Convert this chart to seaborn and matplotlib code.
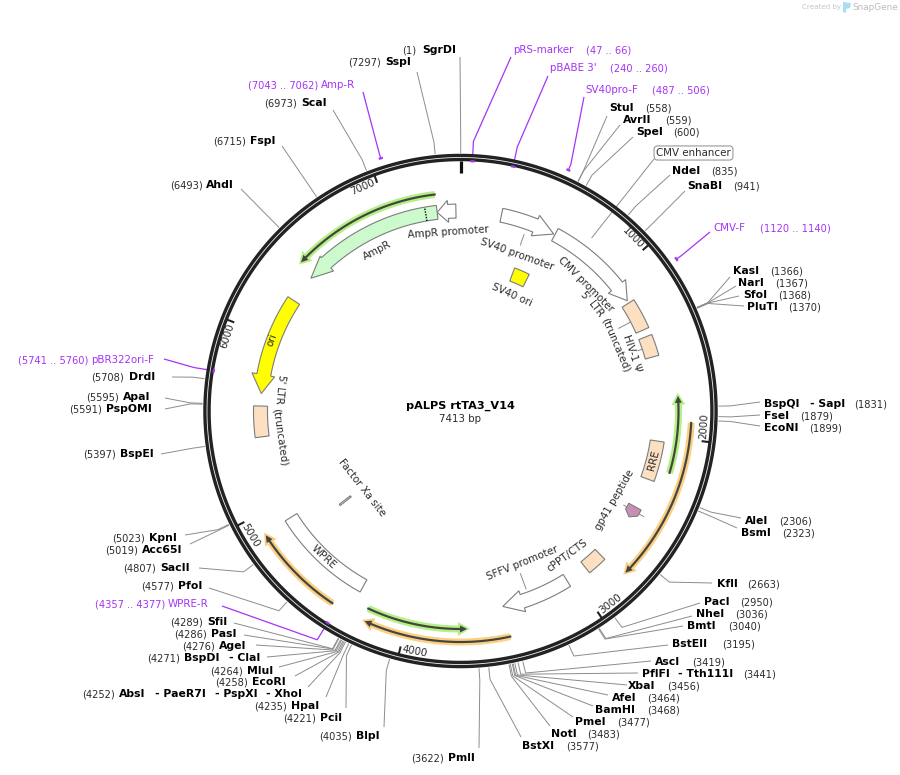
import numpy as np
import matplotlib
matplotlib.use("Agg")
import matplotlib.pyplot as plt
from matplotlib.patches import Polygon
import seaborn as sns

# ---------- data ----------
plasmid_name = "pALPS rtTA3_V14"
plasmid_size = 7413
tick_values = [1000, 2000, 3000, 4000, 5000, 6000, 7000]

enzyme_names = ["SgrDI", "SspI", "ScaI", "FspI", "AhdI", "StuI", "AvrII", "SpeI", "NdeI", "SnaBI",
                "KasI", "NarI", "SfoI", "PluTI", "BspQI", "FseI", "EcoNI", "AleI", "BsmI", "KflI",
                "PacI", "NheI", "BmtI", "BstEII", "AscI", "PflFI", "XbaI", "AfeI", "BamHI", "PmeI",
                "NotI", "BstXI", "PmlI", "BlpI", "PciI", "HpaI", "AbsI", "EcoRI", "MluI", "BspDI",
                "AgeI", "PasI", "SfiI", "PfoI", "SacII", "Acc65I", "KpnI", "BspEI", "PspOMI", "ApaI", "DrdI"]
enzyme_sites = [1, 7297, 6973, 6715, 6493, 558, 559, 600, 835, 941,
                1366, 1367, 1368, 1370, 1831, 1879, 1899, 2306, 2323, 2663,
                2950, 3036, 3040, 3195, 3419, 3441, 3456, 3464, 3468, 3477,
                3483, 3577, 3622, 4035, 4221, 4235, 4252, 4258, 4264, 4271,
                4276, 4286, 4289, 4577, 4807, 5019, 5023, 5397, 5591, 5595, 5708]
extra_names = ["- SapI", "- Tth111I", "- ClaI", "- PaeR7I", "- PspXI", "- XhoI"]

primer_names = ["pRS-marker", "pBABE 3'", "SV40pro-F", "CMV-F", "WPRE-R", "pBR322ori-F", "Amp-R"]
primer_starts = [47, 240, 487, 1120, 4357, 5741, 7043]
primer_ends = [66, 260, 506, 1140, 4377, 5760, 7062]

feature_names = ["AmpR promoter", "AmpR", "ori", "5' LTR (truncated)", "SV40 ori", "SV40 promoter",
                 "CMV promoter", "5' LTR (truncated)", "HIV-1 \u03a8", "RRE", "gp41 peptide",
                 "cPPT/CTS", "SFFV promoter", "WPRE"]
feature_starts = [7386, 7275, 6250, 5589, 427, 243, 580, 1180, 1404, 2265, 2445, 2796, 3045, 4304]
feature_ends = [7275, 6416, 5663, 5407, 550, 572, 1164, 1361, 1530, 2032, 2515, 2912, 3455, 4899]

orf_starts = [7273, 1914, 2193, 3450, 4222, 4400]
orf_ends = [6429, 2784, 1755, 4227, 3655, 4905]
orf_kinds = ["green", "orange", "green", "orange", "green", "orange"]

# ---------- layout ----------
CX, CY = 460.5, 411.0
enzyme_name_x = [422, 385, 301, 250, 206, 609, 623, 636, 672, 687,
                 733, 738, 743, 747, 764, 764, 764, 745, 741, 717,
                 704, 696, 687, 672, 655, 642, 628, 612, 595, 575,
                 551, 522, 448, 356, 320, 291, 119, 252, 247, 184,
                 219, 211, 207, 178, 160, 142, 149, 120, 106, 123, 129]
enzyme_site_x = [402, 348, 264, 213, 170, 645, 665, 673, 711, 733,
                 770, 775, 778, 788, 854, 800, 809, 779, 782, 747,
                 740, 735, 728, 722, 692, 743, 667, 647, 647, 617,
                 587, 566, 411, 319, 283, 254, 82, 215, 210, 147,
                 182, 174, 170, 141, 123, 105, 112, 83, 69, 86, 91]
enzyme_y = [50, 62, 103, 141, 185, 108, 120, 132, 171, 186,
            271, 283, 295, 307, 404, 416, 428, 521, 533, 584,
            602, 614, 626, 644, 662, 674, 686, 698, 710, 722,
            734, 746, 758, 736, 718, 706, 694, 682, 671, 658,
            646, 634, 622, 586, 568, 550, 538, 454, 409, 397, 377]
anchor_x = [460, 417, 333, 282, 241, 607, 620, 633, 670, 685,
            730, 736, 739, 744, 760, 760, 760, 741, 737, 712,
            700, 692, 683, 668, 651, 638, 627, 608, 593, 573,
            550, 521, 479, 384, 346, 326, 308, 295, 279, 267,
            256, 244, 234, 209, 199, 190, 185, 161, 165, 165, 172]
anchor_y = [57, 72, 110, 146, 189, 116, 125, 137, 175, 191,
            277, 286, 296, 306, 402, 415, 426, 518, 528, 583,
            603, 616, 626, 645, 661, 673, 685, 695, 706, 717,
            726, 737, 748, 727, 708, 697, 687, 676, 667, 657,
            645, 635, 623, 588, 568, 544, 535, 454, 409, 398, 377]
extra_x = [810, 678, 229, 155, 215, 266]
extra_y = [404, 674, 658, 694, 694, 694]

primer_name_x = [513, 550, 585, 713, 168, 91, 321]
primer_site_x = [586, 610, 652, 760, 95, 18, 248]
primer_y = [50, 68, 90, 228, 604, 360, 85]
primer_ax = [511, 548, 584, 710, 222, 164, 363]
primer_ay = [57, 76, 97, 232, 606, 359, 92]
primer_r = [250, 250, 264, 264, 250, 250, 265]

feature_r = [(193, 207), (193, 207), (193, 207), (193, 207), (139, 153), (193, 207),
             (193, 207), (192, 206), (192, 206), (192, 206), (192, 206),
             (193, 207), (193, 207), (193, 207)]
feature_head = [64, 128, 111, 0, 0, 119, 104, 0, 0, 0, 30, 0, 119, 0]
feature_head_r = [(189, 211), (189, 209), (189, 212), None, None, (189, 211),
                  (189, 211), None, None, None, (192, 206), None, (189, 211), None]
PEACH, WHITE, YELLOW, MINT, PURPLE = "#fde0c2", "#ffffff", "#ffff00", "#ccfacc", "#c88fb5"
feature_color = [WHITE, MINT, YELLOW, PEACH, YELLOW, WHITE, WHITE, PEACH, PEACH, PEACH,
                 PURPLE, PEACH, WHITE, WHITE]

ORF_R = {"green": 218, "orange": 231}
ORF_HALO = {"green": "#b4f085", "orange": "#fbd085"}
ORF_DARK = "#45453f"
PRIMER = "#a534f5"
GREY_LINE = "#8c8c8c"
EDGE = "#7d7d7d"
TEXT_DARK = "#2b2b2b"
TICK_LABEL_R = 244.5
TICK_LABEL_SHIFT = -72

sns.set_theme(style="white")
plt.rcParams["font.family"] = ["DejaVu Sans"]
plt.rcParams["path.simplify"] = False

fig = plt.figure(figsize=(9, 7.75), dpi=100)
ax = fig.add_axes([0, 0, 1, 1])


def pos(bp, r):
    t = 2 * np.pi * np.asarray(bp, dtype=float) / plasmid_size
    return CX + r * np.sin(t), CY - r * np.cos(t)


def line(xs, ys, color=GREY_LINE, lw=0.7, z=1):
    sns.lineplot(x=np.asarray(xs, dtype=float), y=np.asarray(ys, dtype=float), sort=False,
                 estimator=None, color=color, linewidth=lw, zorder=z, ax=ax, legend=False,
                 solid_capstyle="butt")


def arc(b0, b1, r, color, lw, z=2):
    n = max(8, int(abs(b1 - b0) / 8))
    x, y = pos(np.linspace(b0, b1, n), r)
    line(x, y, color, lw, z)


def band(b0, b1, r0, r1, head=0, head_r=None, face="white", z=3, edge=EDGE, elw=0.8):
    sgn = 1 if b1 > b0 else -1
    neck = b1 - sgn * head
    bs = np.linspace(b0, neck, 60)
    xo, yo = pos(bs, r1)
    xi, yi = pos(bs[::-1], r0)
    xs, ys = list(xo), list(yo)
    if head:
        hx0, hy0 = pos(neck, head_r[1])
        tx, ty = pos(b1, (r0 + r1) / 2)
        hx1, hy1 = pos(neck, head_r[0])
        xs += [hx0, tx, hx1]
        ys += [hy0, ty, hy1]
    xs += list(xi)
    ys += list(yi)
    ax.add_patch(Polygon(np.c_[xs, ys], closed=True, fc=face, ec=edge, lw=elw, zorder=z))


def curved_label(text, bp, r, size=7.4, split=False):
    deg = 360.0 * bp / plasmid_size
    flip = np.cos(np.radians(deg)) < 0
    rot = (180 - deg) if flip else -deg
    if not split:
        x, y = pos(bp, r)
        ax.text(x, y, text, rotation=rot, rotation_mode="anchor", ha="center", va="center",
                fontsize=size, color=TEXT_DARK, zorder=6)
        return
    renderer = fig.canvas.get_renderer()
    words = text.split(" ")
    probe = [ax.text(0, 0, w, fontsize=size) for w in words]
    widths = [p.get_window_extent(renderer).width for p in probe]
    for p in probe:
        p.remove()
    gap = size * 0.45
    total = sum(widths) + gap * (len(words) - 1)
    step = plasmid_size / (2 * np.pi * r) * (-1 if flip else 1)
    s = -total / 2
    for w, wd in zip(words, widths):
        c = bp + (s + wd / 2) * step
        d = 360.0 * c / plasmid_size
        x, y = pos(c, r)
        ax.text(x, y, w, rotation=(180 - d) if flip else -d, rotation_mode="anchor",
                ha="center", va="center", fontsize=size, color=TEXT_DARK, zorder=6)
        s += wd + gap


# enzyme leaders and labels
for name, site, nx, sx, y, ax_, ay_ in zip(enzyme_names, enzyme_sites, enzyme_name_x, enzyme_site_x,
                                           enzyme_y, anchor_x, anchor_y):
    x0, y0 = pos(site, 258)
    x1, y1 = pos(site, 270)
    line([x0, x1, ax_], [y0, y1, ay_])
    ax.text(nx, y, name, fontsize=7.8, fontweight="bold", color="black", ha="left", va="center")
    ax.text(sx, y + 0.5, f"({site})", fontsize=7.1, color=TEXT_DARK, ha="left", va="center")
for t, x, y in zip(extra_names, extra_x, extra_y):
    ax.text(x, y, t, fontsize=7.8, fontweight="bold", color="black", ha="left", va="center")

# CMV enhancer callout
x0, y0 = pos(765, 217)
line([x0, 654], [y0, 159])
ax.text(693.5, 153, "CMV enhancer", fontsize=7.4, color=TEXT_DARK, ha="center", va="center", zorder=6,
        bbox=dict(boxstyle="round,pad=0.2,rounding_size=0.35", fc="white", ec="#999999", lw=0.8))

# backbone
xr, yr = pos(np.linspace(0, plasmid_size, 721), 253.5)
line(xr, yr, "#222222", 5.4, 4)
line(xr, yr, "#f0f0f0", 0.6, 4.1)
x0, y0 = pos(0, 250)
x1, y1 = pos(0, 238)
line([x0, x1], [y0, y1], "#111111", 2.3, 5)
for v in tick_values:
    x0, y0 = pos(v, 251)
    x1, y1 = pos(v, 243)
    line([x0, x1], [y0, y1], "#222222", 1.5, 5)
    d = 360.0 * (v + TICK_LABEL_SHIFT) / plasmid_size
    rot = (180 - d) if np.cos(np.radians(d)) < 0 else -d
    lx, ly = pos(v + TICK_LABEL_SHIFT, TICK_LABEL_R)
    ax.text(lx, ly, str(v), rotation=rot, rotation_mode="anchor", ha="center", va="center",
            fontsize=7.4, color=TEXT_DARK, zorder=6)

# primers
for name, b0, b1, nx, sx, y, px, py, r in zip(primer_names, primer_starts, primer_ends, primer_name_x,
                                              primer_site_x, primer_y, primer_ax, primer_ay, primer_r):
    mid = (b0 + b1) / 2
    xe, ye = pos(mid, r)
    xk, yk = pos(mid, 270)
    line([xe, xk, px], [ye, yk, py], PRIMER, 0.9, 3)
    arc(b0, b1, r, PRIMER, 1.6, 5)
    ax.text(nx, y, name, fontsize=7.4, color=PRIMER, ha="left", va="center")
    ax.text(sx, y + 0.5, f"({b0} .. {b1})", fontsize=7.1, color=PRIMER, ha="left", va="center")

# feature blocks
for name, b0, b1, (r0, r1), h, hr, c in zip(feature_names, feature_starts, feature_ends, feature_r,
                                            feature_head, feature_head_r, feature_color):
    band(b0, b1, r0, r1, h, hr, c)

# Factor Xa site: a 12 bp sliver
band(4774, 4786, 139, 153, face="white")
# dotted junction inside AmpR
xd, yd = pos([7207, 7207], np.array([193, 207]))
ax.plot(xd, yd, color="black", lw=1.0, ls=(0, (1, 1)), zorder=5)

# radial leaders between features and their labels
for bp, r0, r1 in [(408, 176, 188), (961, 193, 207), (1285, 178, 194), (1467, 187, 193),
                   (3290, 173, 190), (2470, 188, 212)]:
    x, y = pos([bp, bp], np.array([r0, r1]))
    line(x, y, GREY_LINE, 0.7, 2.5)

# ORF arcs: a pale halo under a dark arrow, both concentric
for b0, b1, k in zip(orf_starts, orf_ends, orf_kinds):
    r = ORF_R[k]
    sgn = 1 if b1 > b0 else -1
    px_bp = plasmid_size / (2 * np.pi * r)
    band(b0, b1, r - 3.5, r + 3.5, 12 * px_bp, (r - 7, r + 7), ORF_HALO[k], z=2, edge="none", elw=0)
    band(b0 - sgn * px_bp, b1 - sgn * 3 * px_bp, r - 1.1, r + 1.1, 7 * px_bp, (r - 3.5, r + 3.5),
         ORF_DARK, z=3.2, edge="none", elw=0)

# feature labels
curved_label("AmpR promoter", 7331, 179)
curved_label("AmpR", 6849, 181)
curved_label("ori", 5984, 201, size=7.2)
curved_label("5' LTR (truncated)", 5500, 183, split=True)
curved_label("SV40 ori", 494, 127)
curved_label("SV40 promoter", 408, 166)
curved_label("CMV promoter", 922, 178)
curved_label("5' LTR (truncated)", 1262, 169, split=True)
curved_label("HIV-1 \u03a8", 1468, 181)
curved_label("RRE", 2150, 199)
curved_label("gp41 peptide", 2471, 178)
curved_label("cPPT/CTS", 2955, 180)
curved_label("SFFV promoter", 3251, 164.6)
curved_label("WPRE", 4592, 200)
curved_label("Factor Xa site", 4775, 125)

# centre
ax.text(460, 406, plasmid_name, fontsize=8.1, fontweight="bold", color="black", ha="center", va="center")
ax.text(460, 418.5, f"{plasmid_size} bp", fontsize=7.4, color=TEXT_DARK, ha="center", va="center")

# credit
ax.text(802, 7.5, "Created by", fontsize=5.1, color="#c4c4c4", ha="left", va="center")
ax.add_patch(Polygon([[843, 2], [851, 3], [850, 8], [846, 9], [846, 13], [843, 12]], closed=True,
                     fc="#a9ddf7", ec="none"))
ax.text(852, 7.5, "SnapGene", fontsize=6.4, color="#bcbcbc", ha="left", va="center")

ax.set_xlim(0, 900)
ax.set_ylim(775, 0)
ax.set_xlabel("")
ax.set_ylabel("")
ax.axis("off")
fig.savefig("out.png", dpi=100, facecolor="white")
